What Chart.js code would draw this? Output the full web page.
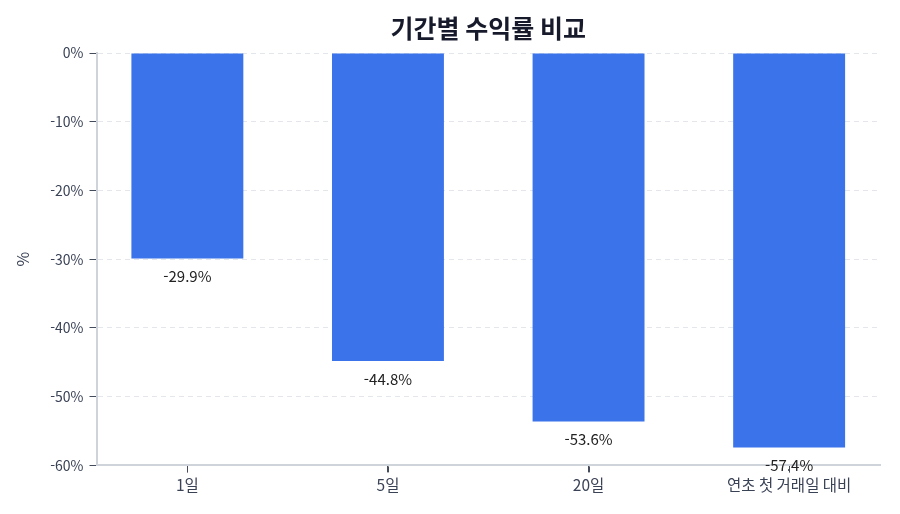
<!DOCTYPE html>
<html lang="ko">
<head>
<meta charset="utf-8">
<script src="https://cdn.jsdelivr.net/npm/chart.js@4/dist/chart.umd.min.js"></script>
<style>
  html, body { margin: 0; padding: 0; background: #fff; }
  #wrap { width: 900px; height: 514px; }
</style>
</head>
<body>
<div id="wrap"><canvas id="returns-chart"></canvas></div>
<script>
// data
const periods = ["1일", "5일", "20일", "연초 첫 거래일 대비"];
const returns = [-29.9, -44.8, -53.6, -57.4];
const yTicks = [0, -10, -20, -30, -40, -50, -60];

const fontFamily = "'Noto Sans CJK KR', 'Noto Sans', sans-serif";

// draw value label under each bar
const valueLabels = {
  id: "valueLabels",
  afterDatasetsDraw(chart) {
    const ctx = chart.ctx;
    const meta = chart.getDatasetMeta(0);
    ctx.save();
    ctx.font = "15px " + fontFamily;
    ctx.fillStyle = "#222222";
    ctx.textAlign = "center";
    ctx.textBaseline = "middle";
    meta.data.forEach((bar, i) => {
      ctx.fillText(returns[i].toFixed(1) + "%", bar.x, bar.y + 18);
    });
    ctx.restore();
  },
};

// small tick marks under the x axis at each category
const xTickMarks = {
  id: "xTickMarks",
  afterDraw(chart) {
    const ctx = chart.ctx;
    const xScale = chart.scales.x;
    ctx.save();
    ctx.strokeStyle = "#444b5a";
    ctx.lineWidth = 1;
    periods.forEach((p, i) => {
      const px = Math.round(xScale.getPixelForValue(i)) + 0.5;
      ctx.beginPath();
      ctx.moveTo(px, xScale.top + 1);
      ctx.lineTo(px, xScale.top + 7);
      ctx.stroke();
    });
    ctx.restore();
  },
};

const returnsCanvas = document.getElementById("returns-chart");

// bars sit on a numeric x axis (0..3) with a little margin at each side
const barPoints = returns.map((v, i) => ({ x: i, y: v }));

let returnsChart = new Chart(returnsCanvas, {
  type: "bar",
  data: {
    datasets: [
      {
        data: barPoints,
        backgroundColor: "#3b73ea",
        borderWidth: 0,
        barPercentage: 0.558,
        categoryPercentage: 1,
      },
    ],
  },
  options: {
    responsive: true,
    maintainAspectRatio: false,
    animation: false,
    layout: {
      padding: { left: 13, right: 20, top: 0, bottom: 17 },
    },
    scales: {
      x: {
        type: "linear",
        offset: false,
        min: -0.453,
        max: periods.length - 1 + 0.453,
        afterBuildTicks: (axis) => {
          axis.ticks = periods.map((p, i) => ({ value: i }));
        },
        grid: {
          offset: false,
          drawOnChartArea: false,
          drawTicks: true,
          tickLength: 7,
          tickWidth: 1,
          tickColor: "#444b5a",
        },
        border: { color: "#cfd3da", width: 2 },
        ticks: {
          color: "#3a4256",
          font: { size: 15.5, family: fontFamily },
          padding: 3,
          maxRotation: 0,
          callback: (v) => periods[v],
        },
      },
      y: {
        min: -60,
        max: 0,
        afterBuildTicks: (axis) => {
          axis.ticks = yTicks.map((v) => ({ value: v }));
        },
        grid: {
          color: "#e3e6ea",
          tickColor: "#444b5a",
          tickLength: 7,
        },
        border: { color: "#cfd3da", width: 2, dash: [5, 4] },
        ticks: {
          color: "#3a4256",
          font: { size: 14, family: fontFamily },
          padding: 6,
          callback: (v) => v + "%",
        },
        title: {
          display: true,
          text: "%",
          color: "#3a4256",
          font: { size: 16, family: fontFamily },
          padding: { top: 0, bottom: 12 },
        },
      },
    },
    plugins: {
      legend: { display: false },
      tooltip: { enabled: false },
      title: {
        display: true,
        fullSize: false,
        text: "기간별 수익률 비교",
        color: "#171a2b",
        font: { size: 25, weight: "bold", family: fontFamily },
        padding: { top: 13, bottom: 10 },
      },
    },
  },
  plugins: [valueLabels, xTickMarks],
});
</script>
</body>
</html>
